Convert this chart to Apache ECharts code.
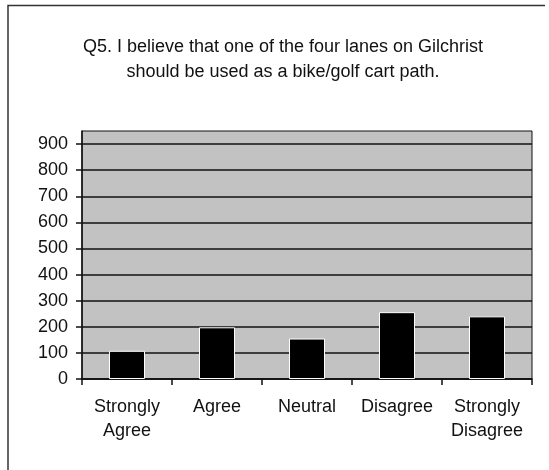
<!DOCTYPE html>
<html>
<head>
<meta charset="utf-8">
<script src="https://cdn.jsdelivr.net/npm/echarts@6/dist/echarts.min.js"></script>
<style>
  html, body { margin: 0; padding: 0; background: #fff; }
  #chart { width: 549px; height: 470px; }
</style>
</head>
<body>
<div id="chart"></div>
<script>
// survey answers
const categories = ['Strongly\nAgree', 'Agree', 'Neutral', 'Disagree', 'Strongly\nDisagree']
const responses = [108, 198, 155, 256, 240]
const yTicks = [0, 100, 200, 300, 400, 500, 600, 700, 800, 900]

const titleText = 'Q5. I believe that one of the four lanes on Gilchrist\nshould be used as a bike/golf cart path.'
const fontFamily = '"Liberation Sans", Arial, sans-serif'
const ink = '#111'

const myChart = echarts.init(document.getElementById('chart'), null, { renderer: 'canvas' })

myChart.setOption({
  animation: false,
  backgroundColor: '#fff',
  title: {
    text: titleText,
    left: 278,
    top: 30,
    textAlign: 'center',
    textStyle: {
      color: ink,
      fontFamily,
      fontSize: 18,
      fontWeight: 'normal',
      lineHeight: 25,
    },
  },
  // outer chart frame (right/bottom edges are cut off in the scan)
  graphic: [
    {
      type: 'polyline',
      silent: true,
      shape: { points: [[8, 470], [8, 5.5], [545, 5.5]] },
      style: { stroke: '#333', lineWidth: 1.5, fill: null },
    },
  ],
  grid: {
    left: 82,
    right: 17,
    top: 131,
    bottom: 91,
    show: true,
    backgroundColor: '#c2c2c2',
    borderColor: '#111',
    borderWidth: 1,
  },
  xAxis: {
    type: 'category',
    data: categories,
    axisLine: { lineStyle: { color: ink, width: 1.5 } },
    axisTick: { show: true, length: 6, inside: false, lineStyle: { color: ink, width: 1.5 } },
    axisLabel: {
      color: ink,
      fontFamily,
      fontSize: 18,
      lineHeight: 24,
      margin: 16,
      interval: 0,
    },
    splitLine: { show: false },
  },
  yAxis: {
    type: 'value',
    min: 0,
    max: 950,
    interval: 100,
    axisLine: { show: true, lineStyle: { color: ink, width: 1.5 } },
    axisTick: {
      show: true,
      length: 6,
      lineStyle: { color: ink, width: 1.5 },
      customValues: yTicks,
    },
    axisLabel: {
      color: ink,
      fontFamily,
      fontSize: 18,
      margin: 14,
      customValues: yTicks,
      formatter: (v) => (v > 900 ? '' : String(v)),
    },
    splitLine: { show: true, lineStyle: { color: ink, width: 1.5 } },
  },
  series: [
    {
      type: 'bar',
      data: responses,
      barWidth: 36,
      itemStyle: { color: '#000', borderColor: '#fff', borderWidth: 1 },
      emphasis: { disabled: true },
    },
  ],
})
</script>
</body>
</html>
